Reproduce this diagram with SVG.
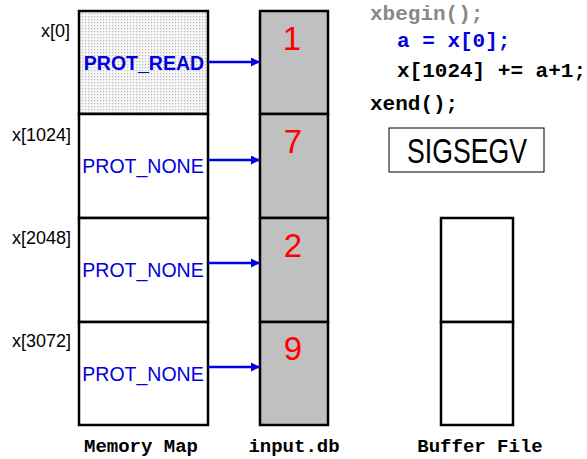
<svg xmlns="http://www.w3.org/2000/svg" width="587" height="459" viewBox="0 0 587 459">
<style>
.box{fill:#fff;stroke:#000;stroke-width:2.5}
.db{fill:#c0c0c0;stroke:#000;stroke-width:2.5}
.addr{font-family:"Liberation Sans",Arial,sans-serif;font-size:18px;fill:#000;text-anchor:end}
.prot{font-family:"Liberation Sans",Arial,sans-serif;font-size:19.5px;fill:#0000e0;text-anchor:middle}
.num{font-family:"Liberation Sans",Arial,sans-serif;font-size:33px;fill:#f00;text-anchor:middle}
.code{font-family:"Liberation Mono","Courier New",monospace;font-size:21px;font-weight:bold}
.lbl{font-family:"Liberation Mono","Courier New",monospace;font-size:19px;font-weight:bold;fill:#000;text-anchor:middle}
.arr{stroke:#0000e0;stroke-width:2.5;fill:none;marker-end:url(#ah)}
</style>
<defs>
<pattern id="dots" width="3" height="3" patternUnits="userSpaceOnUse">
<rect width="3" height="3" fill="#f6f6f6"/>
<rect x="1" y="1" width="1.2" height="1.2" fill="#b8b8b8"/>
</pattern>
<marker id="ah" viewBox="0 0 10 10" refX="10" refY="5" markerWidth="4" markerHeight="3.6" orient="auto" markerUnits="strokeWidth">
<path d="M0,0 L10,5 L0,10 z" fill="#0000e0"/>
</marker>
</defs>
<g id="memory-map">
<rect x="79" y="11" width="129" height="103" fill="url(#dots)" stroke="#000" stroke-width="2.5"/>
<rect class="box" x="79" y="114" width="129" height="104"/>
<rect class="box" x="79" y="218" width="129" height="104"/>
<rect class="box" x="79" y="322" width="129" height="103"/>
<text class="prot" x="144" y="70" font-weight="bold">PROT_READ</text>
<text class="prot" x="143" y="173">PROT_NONE</text>
<text class="prot" x="143" y="277">PROT_NONE</text>
<text class="prot" x="143" y="381">PROT_NONE</text>
<text class="lbl" x="141" y="452">Memory Map</text>
</g>
<g id="addresses">
<text class="addr" x="70" y="37">x[0]</text>
<text class="addr" x="71" y="141">x[1024]</text>
<text class="addr" x="71" y="244">x[2048]</text>
<text class="addr" x="71" y="347">x[3072]</text>
</g>
<g id="input-db">
<rect class="db" x="260" y="11" width="68" height="103"/>
<rect class="db" x="260" y="114" width="68" height="104"/>
<rect class="db" x="260" y="218" width="68" height="104"/>
<rect class="db" x="260" y="322" width="68" height="103"/>
<text class="num" x="292" y="50">1</text>
<text class="num" x="293" y="153">7</text>
<text class="num" x="293" y="257">2</text>
<text class="num" x="293" y="360">9</text>
<text class="lbl" x="294" y="452">input.db</text>
</g>
<g id="connectors">
<line class="arr" x1="208" y1="62" x2="260" y2="62"/>
<line class="arr" x1="208" y1="160" x2="260" y2="160"/>
<line class="arr" x1="208" y1="263" x2="260" y2="263"/>
<line class="arr" x1="208" y1="367" x2="260" y2="367"/>
</g>
<g id="code">
<text class="code" x="370" y="20" fill="#888">xbegin();</text>
<text class="code" x="397" y="47" fill="#0000e0">a = x[0];</text>
<text class="code" x="397" y="77" fill="#000">x[1024] += a+1;</text>
<text class="code" x="370" y="110" fill="#000">xend();</text>
</g>
<g id="sigsegv">
<rect x="389" y="128" width="155" height="44" fill="#fff" stroke="#000" stroke-width="1"/>
<text x="467" y="163" font-family="'Liberation Sans Narrow','Liberation Sans',Arial,sans-serif" font-size="35" text-anchor="middle" textLength="120" lengthAdjust="spacingAndGlyphs">SIGSEGV</text>
</g>
<g id="buffer-file">
<rect class="box" x="441" y="218" width="72" height="104"/>
<rect class="box" x="441" y="322" width="72" height="103"/>
<text class="lbl" x="480" y="452">Buffer File</text>
</g>
</svg>
